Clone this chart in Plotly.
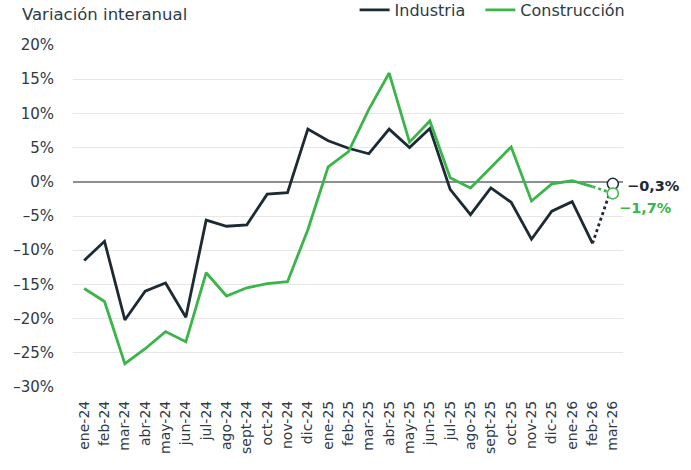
import plotly.graph_objects as go

months = ["ene-24","feb-24","mar-24","abr-24","may-24","jun-24","jul-24","ago-24","sept-24",
          "oct-24","nov-24","dic-24","ene-25","feb-25","mar-25","abr-25","may-25","jun-25",
          "jul-25","ago-25","sept-25","oct-25","nov-25","dic-25","ene-26","feb-26","mar-26"]

industria = [-11.5, -8.7, -20.2, -16.0, -14.8, -19.8, -5.6, -6.5, -6.3, -1.8, -1.6, 7.7,
             6.0, 4.9, 4.1, 7.7, 5.0, 7.8, -1.1, -4.8, -0.9, -3.0, -8.4, -4.3, -2.9, -9.0]
construccion = [-15.6, -17.5, -26.6, -24.4, -21.9, -23.4, -13.3, -16.7, -15.5, -14.9, -14.6, -7.0,
                2.2, 4.4, 10.6, 15.9, 5.8, 8.9, 0.6, -0.9, 2.1, 5.1, -2.8, -0.3, 0.15, -0.7]
industria_last = -0.3
construccion_last = -1.7

yticks = [20, 15, 10, 5, 0, -5, -10, -15, -20, -25, -30]
ytick_text = ["20%", "15%", "10%", "5%", "0%", "–5%", "–10%", "–15%", "–20%", "–25%", "–30%"]

DARK = "#1c2a33"
GREEN = "#3bb54a"
TXT = "#2e3a44"
FONT = "DejaVu Sans"

n = len(industria)
fig = go.Figure()
fig.add_trace(go.Scatter(x=months[:n], y=industria, mode="lines", name="Industria\u00a0\u00a0",
                         line=dict(color=DARK, width=2.8)))
fig.add_trace(go.Scatter(x=months[:n], y=construccion, mode="lines", name="Construcción",
                         line=dict(color=GREEN, width=2.8)))
fig.add_trace(go.Scatter(x=[months[n-1], months[n]], y=[industria[-1], industria_last], mode="lines",
                         line=dict(color=DARK, width=2.8, dash="dot"), showlegend=False))
fig.add_trace(go.Scatter(x=[months[n-1], months[n]], y=[construccion[-1], construccion_last], mode="lines",
                         line=dict(color=GREEN, width=2.8, dash="dot"), showlegend=False))
fig.add_trace(go.Scatter(x=[months[n]], y=[industria_last], mode="markers", showlegend=False,
                         marker=dict(size=11, color="white", line=dict(color=DARK, width=1.5))))
fig.add_trace(go.Scatter(x=[months[n]], y=[construccion_last], mode="markers", showlegend=False,
                         marker=dict(size=11, color="white", line=dict(color=GREEN, width=1.5))))

fig.add_annotation(x=months[n], y=industria_last, text="<b>−0,3%</b>", showarrow=False,
                   xanchor="left", yanchor="middle", xshift=12, yshift=-2,
                   font=dict(family=FONT, size=14.5, color=DARK))
fig.add_annotation(x=months[n], y=construccion_last, text="<b>−1,7%</b>", showarrow=False,
                   xanchor="left", yanchor="middle", xshift=4, yshift=-15,
                   font=dict(family=FONT, size=14.5, color=GREEN))
fig.add_annotation(x=(20 - 73) / 550, y=1 + (45 - 15) / 342, xref="paper", yref="paper",
                   text="Variación interanual", showarrow=False, xanchor="left", yanchor="middle",
                   font=dict(family=FONT, size=16.5, color=TXT))

fig.update_layout(
    width=691, height=470,
    margin=dict(l=73, r=68, t=45, b=83, autoexpand=False),
    paper_bgcolor="white", plot_bgcolor="white",
    font=dict(family=FONT, size=14, color=TXT),
    legend=dict(orientation="h", x=0.512, y=1 + (45 - 10) / 342, xref="paper", yref="paper",
                xanchor="left", yanchor="middle",
                font=dict(size=16, color=TXT), bgcolor="rgba(0,0,0,0)"),
    showlegend=True,
)
fig.update_xaxes(type="category", categoryorder="array", categoryarray=months,
                 range=[-0.55, 26.5], tickangle=-90, showgrid=False, showline=False,
                 ticks="", ticklabelstandoff=10, tickfont=dict(size=14, color=TXT))
fig.update_yaxes(range=[-30, 20], tickvals=yticks, ticktext=ytick_text, showgrid=True,
                 gridcolor="#e6e6e6", gridwidth=1, zeroline=True, zerolinecolor="#8a8f92",
                 zerolinewidth=1.5, showline=False, ticks="", ticklabelstandoff=18,
                 tickfont=dict(size=15, color=TXT))

fig.write_html("out.html", config={"displayModeBar": False},
               post_script="document.body.style.margin='0';")
